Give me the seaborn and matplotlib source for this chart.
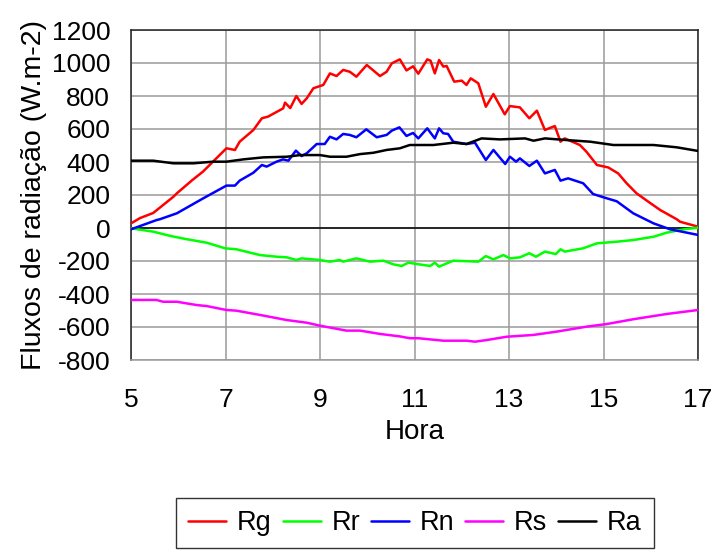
import matplotlib
matplotlib.use("Agg")
import matplotlib.pyplot as plt
import seaborn as sns
import pandas as pd

# ---- data ----
rg_h = [5.0, 5.19, 5.47, 5.9, 5.97, 6.3, 6.52, 7.02, 7.2, 7.3, 7.59, 7.77, 7.9, 8.22, 8.26, 8.37, 8.5, 8.61,
        8.72, 8.86, 9.07, 9.21, 9.35, 9.49, 9.63, 9.77, 9.99, 10.27, 10.41, 10.52, 10.69, 10.83, 10.97, 11.08,
        11.27, 11.34, 11.43, 11.52, 11.61, 11.68, 11.84, 12.0, 12.1, 12.19, 12.35, 12.51, 12.67, 12.91, 13.02,
        13.23, 13.43, 13.59, 13.76, 13.97, 14.09, 14.18, 14.5, 14.64, 14.86, 15.1, 15.31, 15.49, 15.7, 15.98,
        16.2, 16.55, 16.62, 17.0]
rg_v = [28, 60, 91, 190, 210, 291, 341, 483, 473, 523, 594, 665, 675, 725, 760, 727, 800, 752,
        786, 847, 867, 937, 921, 958, 947, 917, 988, 921, 947, 998, 1022, 955, 980, 935,
        1022, 1014, 937, 1018, 978, 982, 887, 893, 867, 907, 877, 735, 812, 689, 739,
        731, 665, 711, 594, 618, 523, 543, 503, 462, 382, 367, 331, 271, 210, 153,
        109, 53, 38, 8]

rr_h = [5.0, 5.47, 5.83, 6.18, 6.6, 6.99, 7.23, 7.73, 8.08, 8.3, 8.5, 8.61, 9.0, 9.21, 9.42, 9.49, 9.77,
        10.06, 10.34, 10.55, 10.73, 10.87, 11.04, 11.33, 11.43, 11.52, 11.82, 12.35, 12.51, 12.67, 12.88,
        13.02, 13.23, 13.43, 13.57, 13.76, 13.99, 14.09, 14.18, 14.57, 14.86, 15.28, 15.63, 16.06, 16.34,
        16.7, 17.0]
rr_v = [-2, -22, -48, -68, -89, -123, -129, -164, -174, -178, -194, -184, -194, -204, -194, -204, -184,
        -204, -198, -220, -230, -210, -218, -230, -210, -234, -198, -204, -170, -190, -164,
        -184, -178, -153, -174, -143, -158, -129, -143, -123, -93, -83, -73, -53, -28,
        -8, 2]

rn_h = [5.0, 5.54, 5.61, 5.97, 6.53, 7.02, 7.2, 7.3, 7.59, 7.77, 7.87, 8.08, 8.22, 8.33, 8.49, 8.61, 8.72,
        8.93, 9.1, 9.21, 9.35, 9.49, 9.63, 9.77, 9.98, 10.2, 10.41, 10.52, 10.68, 10.83, 10.97, 11.08, 11.27,
        11.43, 11.52, 11.61, 11.71, 11.82, 12.1, 12.28, 12.51, 12.67, 12.92, 13.02, 13.15, 13.23, 13.43,
        13.59, 13.76, 13.97, 14.09, 14.25, 14.57, 14.78, 15.0, 15.28, 15.63, 16.06, 16.41, 16.76, 17.0]
rn_v = [-8, 48, 53, 89, 180, 257, 257, 287, 335, 382, 372, 402, 416, 408, 469, 436, 453,
        509, 509, 553, 537, 570, 564, 550, 598, 550, 564, 590, 610, 558, 576, 543, 604,
        543, 604, 574, 570, 523, 509, 517, 412, 473, 388, 432, 402, 422, 376,
        408, 331, 352, 287, 301, 271, 206, 186, 162, 89, 28, -8, -28, -42]

rs_h = [5.0, 5.54, 5.68, 5.97, 6.39, 6.6, 7.02, 7.23, 7.73, 8.3, 8.72, 9.0, 9.56, 9.85, 10.27, 10.69,
        10.9, 11.08, 11.61, 12.1, 12.28, 12.53, 12.95, 13.52, 14.01, 14.64, 15.07, 15.63, 16.34, 17.0]
rs_v = [-436, -436, -447, -447, -467, -473, -497, -501, -527, -558, -574, -592, -622, -622, -642, -657,
        -668, -668, -683, -683, -689, -679, -659, -648, -628, -598, -582, -553, -521, -497]

ra_h = [5.0, 5.47, 5.9, 6.32, 6.74, 7.02, 7.38, 7.8, 8.3, 8.58, 9.0, 9.21, 9.56, 9.85, 10.13, 10.41,
        10.69, 10.9, 11.4, 11.82, 12.1, 12.42, 12.81, 13.34, 13.52, 13.76, 14.22, 14.72, 15.21, 16.06,
        16.55, 17.0]
ra_v = [408, 408, 392, 392, 402, 402, 416, 428, 432, 442, 442, 432, 432, 448, 456, 473,
        483, 503, 503, 517, 509, 543, 537, 543, 529, 543, 533, 523, 503, 503,
        489, 467]

series_names = ["Rg", "Rr", "Rn", "Rs", "Ra"]
series_colors = ["#FF0000", "#00FF00", "#0000FF", "#FF00FF", "#000000"]
x_ticks = [5, 7, 9, 11, 13, 15, 17]
y_ticks = list(range(-800, 1201, 200))

frames = []
for name, h, v in zip(series_names, [rg_h, rr_h, rn_h, rs_h, ra_h], [rg_v, rr_v, rn_v, rs_v, ra_v]):
    frames.append(pd.DataFrame({"Hora": h, "Fluxo": v, "Serie": name}))
df = pd.concat(frames, ignore_index=True)

sns.set_theme(style="white")
plt.rcParams["font.family"] = ["Liberation Sans", "DejaVu Sans"]
plt.rcParams["axes.unicode_minus"] = False
plt.rcParams["text.color"] = "black"
plt.rcParams["axes.labelcolor"] = "black"

fig = plt.figure(figsize=(7.15, 5.54), dpi=100)
ax = fig.add_axes([131 / 715, 1 - 360 / 554, (698 - 131) / 715, (360 - 30) / 554])

sns.lineplot(data=df, x="Hora", y="Fluxo", hue="Serie", hue_order=series_names,
             palette=dict(zip(series_names, series_colors)), estimator=None, sort=False,
             linewidth=1.8, ax=ax, legend=False, zorder=3)

ax.set_xlim(5, 17)
ax.set_ylim(-800, 1200)
ax.set_xticks(x_ticks)
ax.set_yticks(y_ticks)
ax.grid(True, color="#9a9a9a", linewidth=1.1, zorder=0)
ax.axhline(0, color="black", linewidth=1.1, zorder=2)

for s in ["left", "right", "top"]:
    ax.spines[s].set_color("#222222")
    ax.spines[s].set_linewidth(1.1)
ax.spines["bottom"].set_color("#9a9a9a")
ax.spines["bottom"].set_linewidth(1.1)

ax.tick_params(axis="both", which="major", direction="out", length=5, width=1.0,
               color="#9a9a9a", labelsize=19, labelcolor="black")
ax.tick_params(axis="x", pad=15)
ax.tick_params(axis="y", pad=10)

ax.set_xlabel("Hora", fontsize=20, labelpad=5)
ax.set_ylabel("Fluxos de radiação (W.m-2)", fontsize=20.5, labelpad=3)

handles = [plt.Line2D([0], [0], color=c, linewidth=1.8) for c in series_colors]
leg = fig.legend(handles, series_names, loc="center", bbox_to_anchor=(415 / 715, 1 - 523 / 554),
                 ncol=5, fontsize=19.5, frameon=True, fancybox=False, shadow=False,
                 handlelength=1.4, handletextpad=0.4, columnspacing=0.4, borderpad=0.45,
                 edgecolor="black", borderaxespad=0)
leg.get_frame().set_linewidth(1.0)

fig.savefig("out.png", dpi=100)
